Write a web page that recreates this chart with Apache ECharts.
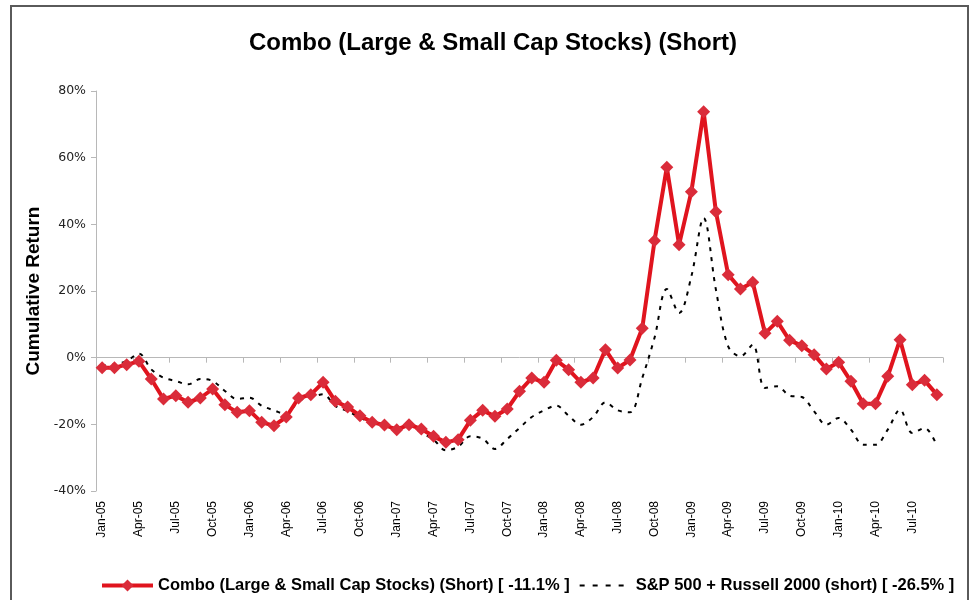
<!DOCTYPE html>
<html>
<head>
<meta charset="utf-8">
<script src="https://cdn.jsdelivr.net/npm/echarts@6/dist/echarts.min.js"></script>
<style>
html,body{margin:0;padding:0;background:#fff;}
#chart{width:970px;height:600px;}
</style>
</head>
<body>
<div id="chart"></div>
<script>
var months = ["Jan-05","Feb-05","Mar-05","Apr-05","May-05","Jun-05","Jul-05","Aug-05","Sep-05","Oct-05","Nov-05","Dec-05",
"Jan-06","Feb-06","Mar-06","Apr-06","May-06","Jun-06","Jul-06","Aug-06","Sep-06","Oct-06","Nov-06","Dec-06",
"Jan-07","Feb-07","Mar-07","Apr-07","May-07","Jun-07","Jul-07","Aug-07","Sep-07","Oct-07","Nov-07","Dec-07",
"Jan-08","Feb-08","Mar-08","Apr-08","May-08","Jun-08","Jul-08","Aug-08","Sep-08","Oct-08","Nov-08","Dec-08",
"Jan-09","Feb-09","Mar-09","Apr-09","May-09","Jun-09","Jul-09","Aug-09","Sep-09","Oct-09","Nov-09","Dec-09",
"Jan-10","Feb-10","Mar-10","Apr-10","May-10","Jun-10","Jul-10","Aug-10","Sep-10"];

var comboShort = [-3.0,-3.0,-2.1,-1.1,-6.4,-12.4,-11.4,-13.4,-12.1,-9.4,-14.1,-16.4,
-15.9,-19.4,-20.4,-17.8,-12.1,-11.1,-7.4,-13.1,-14.8,-17.4,-19.4,-20.2,
-21.6,-20.1,-21.4,-23.6,-25.4,-24.6,-18.8,-15.8,-17.6,-15.4,-10.1,-6.1,
-7.4,-0.8,-3.6,-7.4,-6.1,2.4,-3.1,-0.7,8.8,35.1,57.1,33.9,
49.8,73.8,43.8,24.9,20.6,22.6,7.3,10.9,5.2,3.6,0.9,-3.4,
-1.4,-7.1,-13.8,-13.8,-5.6,5.4,-8.1,-6.8,-11.1];

var benchShort = [-2.5,-2.0,-1.0,1.2,-3.5,-6.0,-7.0,-8.0,-6.4,-7.0,-10.0,-12.4,
-12.0,-14.4,-15.8,-17.0,-13.0,-12.0,-11.0,-14.5,-16.0,-18.0,-19.5,-20.5,
-21.0,-20.5,-22.5,-24.6,-27.8,-26.7,-23.6,-24.3,-27.4,-24.4,-21.1,-17.8,
-15.8,-14.4,-17.4,-20.1,-17.8,-13.4,-15.8,-16.4,-6.1,6.0,20.6,13.4,
24.4,41.9,20.4,3.4,0.4,3.9,-9.1,-8.6,-11.4,-11.8,-16.1,-20.1,
-18.1,-21.6,-26.1,-26.1,-21.6,-15.6,-22.6,-21.1,-26.5];

var yTicks = {min: -40, max: 80, interval: 20};
var titleText = "Combo (Large & Small Cap Stocks) (Short)";
var seriesNames = ["Combo (Large & Small Cap Stocks) (Short) [ -11.1% ]", "S&P 500 + Russell 2000 (short) [ -26.5% ]"];

var chart = echarts.init(document.getElementById('chart'), null, {renderer: 'canvas'});
var font = "'Liberation Sans', Arial, sans-serif";
chart.setOption({
  backgroundColor: '#fff',
  animation: false,
  title: {
    text: titleText,
    left: 488, top: 26, textAlign: 'center',
    textStyle: {fontFamily: font, fontSize: 24, fontWeight: 'bold', color: '#000'}
  },
  graphic: [{
    type: 'rect', z: 100, silent: true,
    shape: {x: 11, y: 6, width: 957, height: 640},
    style: {fill: 'none', stroke: '#5a5a5a', lineWidth: 2}
  }],
  legend: {
    left: 100, top: 577, padding: 0,
    itemWidth: 51, itemHeight: 15, itemGap: 9,
    textStyle: {fontFamily: font, fontSize: 16.5, fontWeight: 'bold', color: '#000'},
    data: [
      {name: seriesNames[0], lineStyle: {width: 4}},
      {name: seriesNames[1], itemStyle: {opacity: 0}, lineStyle: {width: 2, type: [5, 8]}}
    ]
  },
  grid: {left: 96, right: 27, top: 91, bottom: 109, containLabel: false},
  xAxis: [{
    type: 'category', data: months, position: 'bottom', boundaryGap: true,
    axisLine: {show: false, onZero: false},
    axisTick: {show: false},
    axisLabel: {interval: 2, rotate: 90, margin: 10, fontFamily: font, fontSize: 12, color: '#000'},
    splitLine: {show: false}
  }, {
    type: 'category', data: months, position: 'bottom', boundaryGap: true,
    axisLine: {show: true, onZero: true, lineStyle: {color: '#b8b8b8', width: 1}},
    axisTick: {show: true, interval: 2, length: 5, lineStyle: {color: '#b8b8b8'}},
    axisLabel: {show: false},
    splitLine: {show: false}
  }],
  yAxis: {
    type: 'value', min: yTicks.min, max: yTicks.max, interval: yTicks.interval,
    name: 'Cumulative Return', nameLocation: 'middle', nameGap: 52,
    nameTextStyle: {fontFamily: font, fontSize: 19, fontWeight: 'bold', color: '#000'},
    axisLine: {show: true, lineStyle: {color: '#b8b8b8'}},
    axisTick: {show: true, length: 5, lineStyle: {color: '#b8b8b8'}},
    axisLabel: {formatter: '{value}%', margin: 10, fontFamily: "'DejaVu Sans', sans-serif", fontSize: 12.5, color: '#222'},
    splitLine: {show: false}
  },
  series: [{
    name: seriesNames[0], type: 'line', xAxisIndex: 0, data: comboShort,
    symbol: 'diamond', symbolSize: 13, showSymbol: true, showAllSymbol: true, z: 3,
    lineStyle: {color: '#e0141e', width: 4},
    itemStyle: {color: '#da2c3a'}
  }, {
    name: seriesNames[1], type: 'line', xAxisIndex: 0, data: benchShort,
    symbol: 'none', smooth: 0.35, z: 2,
    lineStyle: {color: '#000', width: 2, type: [4, 6]},
    itemStyle: {color: '#000'}
  }]
});
</script>
</body>
</html>
